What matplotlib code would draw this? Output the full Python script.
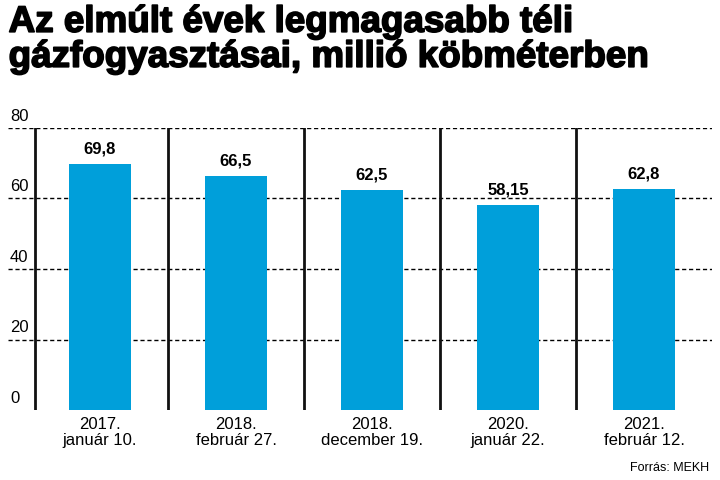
import matplotlib.pyplot as plt
import matplotlib.patheffects as pe

categories = ["2017.\njanuár 10.", "2018.\nfebruár 27.", "2018.\ndecember 19.",
              "2020.\njanuár 22.", "2021.\nfebruár 12."]
values = [69.8, 66.5, 62.5, 58.15, 62.8]
value_labels = ["69,8", "66,5", "62,5", "58,15", "62,8"]
yticks = [0, 20, 40, 60, 80]

fig = plt.figure(figsize=(7.2, 4.8), dpi=100)
fig.text(0.012, 0.99, "Az elmúlt évek legmagasabb téli\ngázfogyasztásai, millió köbméterben",
         fontsize=26.5, fontweight="bold", va="top", ha="left", linespacing=1.0,
         family="Liberation Sans",
         path_effects=[pe.withStroke(linewidth=1.2, foreground="black")])

ax = fig.add_axes([8 / 720, 1 - 410 / 480, 704 / 720, 282 / 480])
x = list(range(len(values)))
ax.bar(x, values, width=0.46, color="#009fda")
ax.set_xlim(-0.676, 4.5)
ax.set_ylim(0, 80)

for y in yticks[1:]:
    ax.axhline(y, color="black", lw=1, ls=(0, (3, 2)), zorder=0)
for y in yticks:
    ax.text(-0.676 + 2 / 136, y + 1.2, str(y), fontsize=12, va="bottom", ha="left",
            family="Liberation Sans")
for xv in [-0.48, 0.5, 1.5, 2.5, 3.5]:
    ax.axvline(xv, color="#111111", lw=2)
for xi, v, lab in zip(x, values, value_labels):
    ax.text(xi, v + 2, lab, ha="center", va="bottom", fontsize=12, fontweight="bold",
            family="Liberation Sans")

ax.set_xticks(x)
ax.set_xticklabels(categories, fontsize=12, family="Liberation Sans", linespacing=1.1)
ax.tick_params(axis="x", length=0, pad=5)
ax.set_yticks([])
for s in ax.spines.values():
    s.set_visible(False)

fig.text(0.985, 0.012, "Forrás: MEKH", fontsize=9, ha="right", va="bottom",
         family="Liberation Sans")
fig.savefig("out.png", dpi=100)
